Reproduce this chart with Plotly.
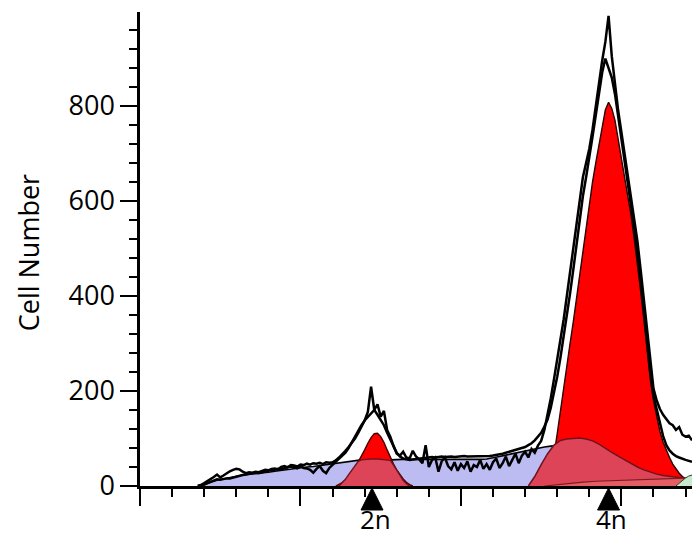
import plotly.graph_objects as go

# ---------------- data ----------------
# raw DNA-content histograms, one value per channel starting at channel 18
hist_a = [0, 2, 6, 10, 14, 19, 24, 18, 22, 27, 31, 34, 36, 35, 30, 27, 29, 28, 30, 29,
          32, 34, 33, 36, 37, 35, 40, 42, 39, 44, 43, 41, 45, 44, 47, 45, 48, 47, 49, 46,
          50, 49, 50, 54, 60, 66, 74, 82, 90, 100, 112, 124, 138, 156, 209, 160, 172, 146, 158, 118,
          104, 84, 68, 64, 72, 60, 58, 74, 62, 56, 48, 86, 40, 55, 60, 30, 52, 60, 42, 35,
          50, 32, 46, 38, 52, 30, 44, 40, 55, 36, 46, 34, 50, 58, 38, 48, 62, 42, 56, 68,
          48, 64, 72, 60, 78, 70, 85, 95, 118, 150, 185, 225, 265, 305, 350, 400, 450, 505, 560, 610,
          650, 680, 710, 750, 800, 850, 895, 935, 990, 905, 840, 790, 745, 700, 655, 610, 565, 515, 455, 395,
          335, 270, 205, 180, 162, 150, 140, 132, 128, 118, 124, 108, 104, 106, 96]
hist_b = [0, 1, 3, 6, 9, 12, 14, 13, 15, 16, 16, 18, 20, 21, 23, 24, 25, 27, 28, 27,
          29, 31, 33, 34, 34, 36, 35, 38, 40, 41, 40, 37, 42, 38, 37, 34, 28, 36, 42, 32,
          27, 38, 44, 50, 56, 62, 70, 80, 92, 104, 118, 128, 138, 146, 152, 160, 150, 140, 128, 112,
          96, 84, 70, 62, 58, 56, 55, 56, 57, 58, 59, 60, 60, 61, 60, 61, 62, 61, 62, 62,
          61, 62, 62, 63, 62, 62, 63, 62, 63, 63, 62, 63, 64, 65, 66, 68, 70, 72, 74, 76,
          78, 80, 82, 86, 90, 96, 104, 112, 125, 140, 165, 195, 230, 270, 312, 358, 405, 455, 510, 560,
          610, 650, 690, 735, 780, 830, 870, 900, 880, 860, 825, 780, 732, 683, 635, 590, 543, 492, 432, 368,
          302, 240, 190, 160, 130, 105, 86, 75, 68, 63, 60, 57, 55, 53, 51]
hist_channels = list(range(18, 18 + len(hist_a)))

# S-phase model (lavender)
s_channels = [19, 20, 22, 24, 26, 28, 30, 32, 34, 36, 38, 40, 42, 44, 46, 48, 50, 52, 54, 56,
              58, 60, 62, 64, 66, 68, 70, 74, 78, 82, 86, 90, 94, 98, 102, 106, 108, 110, 112, 114,
              116, 118, 120, 122, 124, 126, 128, 130, 131]
s_phase = [0, 3, 8, 12, 15, 18, 21, 23, 25, 26, 28, 29, 31, 33, 35, 36, 38, 40, 41, 43,
           45, 47, 48, 51, 53, 55, 56, 56, 55, 56, 56, 55, 56, 56, 55, 56, 57, 59, 62, 65,
           68, 71, 74, 77, 80, 82, 84, 85, 0]

# G0/G1 (2n) model peak
g1_channels = [61, 62, 63, 64, 65, 66, 67, 68, 69, 70, 71, 72, 73, 74, 75, 76, 77, 78, 79, 80,
               81, 82, 83, 84, 85]
g1_peak = [0, 3, 7, 12, 19, 28, 38, 50, 62, 76, 90, 102, 110, 111, 104, 92, 76, 60, 46, 34,
           24, 15, 8, 3, 0]
g1_low_channels = [62, 63, 64, 65, 66, 67, 68, 69, 70, 72, 74, 76, 77, 78, 79, 80, 81, 82, 83, 84]
g1_low = [0, 6, 14, 24, 34, 44, 52, 55, 56, 57, 57, 56, 56, 54, 44, 33, 22, 12, 5, 0]

# G2/M (4n) model peak
g2_channels = list(range(126, 173))
g2_peak = [0, 12, 30, 65, 110, 160, 210, 255, 300, 345, 395, 445, 495, 545, 595, 640, 680, 720, 760, 792,
           808, 795, 770, 730, 690, 650, 612, 570, 520, 470, 410, 350, 290, 225, 180, 145, 115, 92, 75, 60,
           46, 35, 27, 20, 15, 11, 8]

# broad second component under the 4n peak
hump_channels = [121, 123, 125, 127, 129, 131, 133, 135, 137, 139, 141, 143, 145, 147, 149, 151, 153,
                 155, 157, 159, 161, 163, 165, 167, 169, 171, 172]
hump = [0, 20, 45, 68, 86, 96, 99, 100, 101, 99, 95, 88, 79, 71, 63, 55, 47, 40, 34, 29,
        25, 22, 20, 18, 17, 16, 16]

# aggregates
agg_channels = [126, 130, 134, 138, 142, 146, 150, 154, 158, 162, 166, 170, 172]
aggregates = [0, 3, 6, 8, 10, 11, 12, 13, 14, 15, 16, 17, 17]

green_channels = [167, 168, 169, 170, 171, 172]
green_part = [0, 6, 12, 17, 21, 23]

ploidy_labels = ["2n", "4n"]
ploidy_pos = [72.3, 146]

y_ticks = [0, 200, 400, 600, 800]

# ---------------- figure ----------------
FONT = "Open Sans"
LAVENDER = "rgb(188,188,242)"
RED = "rgb(255,0,0)"
CRIMSON = "rgb(222,68,88)"

W, H = 692, 538
TOP, BOTTOM_STRIP = 12, 52          # px above the plot, px of the marker strip below the axis
strip_frac = BOTTOM_STRIP / (H - TOP)

fig = go.Figure()

fig.add_trace(go.Scatter(x=s_channels, y=s_phase, mode="lines", fill="tozeroy",
                         fillcolor=LAVENDER, line=dict(color="black", width=1.6)))
fig.add_trace(go.Scatter(x=g1_channels, y=g1_peak, mode="lines", fill="tozeroy",
                         fillcolor=RED, line=dict(color="rgb(70,0,0)", width=1.4)))
fig.add_trace(go.Scatter(x=g1_low_channels, y=g1_low, mode="lines", fill="tozeroy",
                         fillcolor=CRIMSON, line=dict(color="rgb(110,20,30)", width=1.4)))
fig.add_trace(go.Scatter(x=g2_channels, y=g2_peak, mode="lines", fill="tozeroy",
                         fillcolor=RED, line=dict(color="rgb(40,0,0)", width=1.4)))
fig.add_trace(go.Scatter(x=hump_channels, y=hump, mode="lines", fill="tozeroy",
                         fillcolor=CRIMSON, line=dict(color="rgb(110,20,30)", width=1.5)))
fig.add_trace(go.Scatter(x=agg_channels, y=aggregates, mode="lines", fill="tozeroy",
                         fillcolor="rgb(228,92,100)", line=dict(color="rgb(120,30,30)", width=1.2)))
fig.add_trace(go.Scatter(x=green_channels, y=green_part, mode="lines", fill="tozeroy",
                         fillcolor="rgb(200,232,205)", line=dict(color="rgb(40,70,40)", width=1)))

fig.add_trace(go.Scatter(x=hist_channels, y=hist_b, mode="lines",
                         line=dict(color="black", width=2.5)))
fig.add_trace(go.Scatter(x=hist_channels, y=hist_a, mode="lines",
                         line=dict(color="black", width=2.5)))

# ploidy markers in a strip just below the x axis (y2 measured in px below the axis)
fig.add_trace(go.Scatter(x=ploidy_pos, y=[-2] * len(ploidy_pos), yaxis="y2", mode="markers",
                         marker=dict(symbol="arrow-up", size=22, color="black",
                                     line=dict(width=1, color="black")),
                         cliponaxis=False))

for lab, pos in zip(ploidy_labels, ploidy_pos):
    fig.add_annotation(x=pos, y=-33, xref="x", yref="y2", text=lab, showarrow=False,
                       xanchor="center", yanchor="middle", xshift=3,
                       font=dict(family=FONT, size=26, color="black"))

fig.add_annotation(x=0, y=490, xref="paper", yref="y", text="Cell Number",
                   textangle=-90, showarrow=False, xanchor="center", yanchor="middle",
                   xshift=-112, font=dict(family=FONT, size=27, color="black"))

fig.update_layout(
    width=W, height=H,
    margin=dict(l=140, r=0, t=TOP, b=0, autoexpand=False),
    paper_bgcolor="white", plot_bgcolor="white",
    showlegend=False,
    font=dict(family=FONT, size=27, color="black"),
    xaxis=dict(range=[0, 172], anchor="y", automargin=False, showline=True, linecolor="black",
               linewidth=3, ticks="outside", ticklen=17, tickwidth=2, tickcolor="black",
               tick0=0, dtick=50, showticklabels=False, showgrid=False, zeroline=False,
               minor=dict(dtick=10, ticks="outside", ticklen=8, tickwidth=2,
                          tickcolor="black", showgrid=False)),
    yaxis=dict(domain=[strip_frac, 1], range=[0, 998], automargin=False, showline=True,
               linecolor="black", linewidth=2.5, ticks="outside", ticklen=17, tickwidth=2,
               tickcolor="black", tickmode="array", tickvals=y_ticks,
               ticktext=[str(v) for v in y_ticks],
               showgrid=False, zeroline=False, ticklabelstandoff=0,
               tickfont=dict(family=FONT, size=27, color="black"),
               minor=dict(dtick=40, tick0=0, ticks="outside", ticklen=8, tickwidth=2,
                          tickcolor="black", showgrid=False)),
    yaxis2=dict(domain=[0, strip_frac], range=[-BOTTOM_STRIP, 0], anchor="x", automargin=False,
                visible=False, showgrid=False, zeroline=False),
)

fig.write_html("out.html", config={"displayModeBar": False},
               post_script="document.body.style.margin='0';document.body.style.overflow='hidden';")
